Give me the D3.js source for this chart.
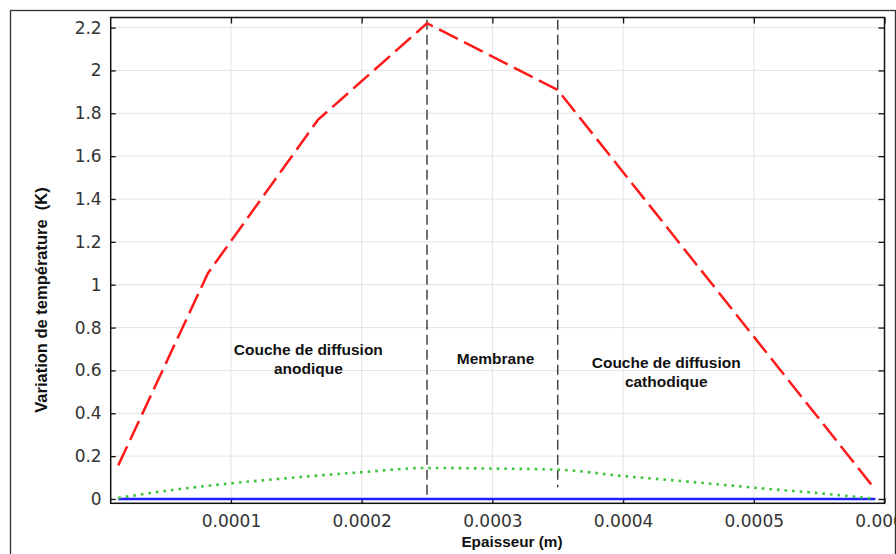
<!DOCTYPE html>
<html>
<head>
<meta charset="utf-8">
<script src="https://cdn.jsdelivr.net/npm/d3@7"></script>
<style>
  html, body { margin: 0; padding: 0; background: #fff; overflow: hidden; }
  svg { display: block; }
</style>
</head>
<body>
<div id="chart"></div>
<script>
// ---------- data ----------
const xTicks = [0.0001, 0.0002, 0.0003, 0.0004, 0.0005, 0.0006];
const xTickLabels = ["0.0001", "0.0002", "0.0003", "0.0004", "0.0005", "0.0006"];
const yTicks = [0, 0.2, 0.4, 0.6, 0.8, 1, 1.2, 1.4, 1.6, 1.8, 2, 2.2];
const yTickLabels = ["0", "0.2", "0.4", "0.6", "0.8", "1", "1.2", "1.4", "1.6", "1.8", "2", "2.2"];

const redX = [1.38e-5, 8.24e-5, 1.665e-4, 2.5e-4, 3.5e-4, 5.93e-4];
const redY = [0.157, 1.054, 1.769, 2.22, 1.909, 0.044];

const greenX = [1.38e-5, 5e-5, 1e-4, 1.5e-4, 2e-4, 2.5e-4, 3e-4, 3.5e-4, 4e-4, 4.5e-4, 5e-4, 5.5e-4, 5.93e-4];
const greenY = [0.005, 0.038, 0.073, 0.101, 0.125, 0.145, 0.142, 0.137, 0.107, 0.081, 0.053, 0.027, 0.001];

const blueX = [1.38e-5, 5.93e-4];
const blueY = [0, 0];

const sepX = [0.00025, 0.00035];
const sepTop = [2.236, 2.236];
const sepBottom = [0, 0.055];

const annotLines = [["Couche de diffusion", "anodique"], ["Membrane"], ["Couche de diffusion", "cathodique"]];
const annotX = [1.592e-4, 3.024e-4, 4.33e-4];
const annotY = [0.674, 0.629, 0.61];

const xTitle = "Epaisseur (m)";
const yTitle = "Variation de température  (K)";

// ---------- layout ----------
const W = 896, H = 554;
const L = 110.7, R = 884.5, T = 17.5, B = 503.3;

const svg = d3.select("#chart").append("svg").attr("width", W).attr("height", H);

const x = d3.scaleLinear().domain([8e-6, 0.0006]).range([L, R]);
const y = d3.scaleLinear().domain([-0.02, 2.247]).range([B, T]);

// outer border
svg.append("rect").attr("x", 10.5).attr("y", 10.5).attr("width", 885).attr("height", 600)
  .attr("fill", "none").attr("stroke", "#333").attr("stroke-width", 1.3);

// grid
const grid = svg.append("g");
grid.selectAll("line.gx").data(xTicks.slice(0, 5)).join("line")
  .attr("x1", d => x(d)).attr("x2", d => x(d)).attr("y1", T).attr("y2", B)
  .attr("stroke", "#e3e3e3").attr("stroke-width", 1);
grid.selectAll("line.gy").data(yTicks).join("line")
  .attr("x1", L).attr("x2", R).attr("y1", d => y(d)).attr("y2", d => y(d))
  .attr("stroke", "#e3e3e3").attr("stroke-width", 1);

// axes
const fmtX = (d, i) => xTickLabels[i];
const fmtY = (d, i) => yTickLabels[i];
const axB = svg.append("g").attr("transform", `translate(0,${B})`)
  .call(d3.axisBottom(x).tickValues(xTicks).tickFormat(fmtX).tickSizeInner(-5).tickSizeOuter(0).tickPadding(11.5));
const axT = svg.append("g").attr("transform", `translate(0,${T})`)
  .call(d3.axisTop(x).tickValues(xTicks).tickFormat("").tickSizeInner(-6).tickSizeOuter(0));
const axL = svg.append("g").attr("transform", `translate(${L},0)`)
  .call(d3.axisLeft(y).tickValues(yTicks).tickFormat(fmtY).tickSizeInner(-5).tickSizeOuter(0).tickPadding(9));
const axR = svg.append("g").attr("transform", `translate(${R},0)`)
  .call(d3.axisRight(y).tickValues(yTicks).tickFormat("").tickSizeInner(-6).tickSizeOuter(0));
[axB, axT, axL, axR].forEach(a => {
  a.select(".domain").remove();
  a.selectAll(".tick line").attr("stroke", "#111").attr("stroke-width", 1.3);
  a.selectAll(".tick text").attr("fill", "#333").attr("font-family", "DejaVu Sans").attr("font-size", 17);
});

// frame
svg.append("rect").attr("x", L).attr("y", T).attr("width", R - L).attr("height", B - T)
  .attr("fill", "none").attr("stroke", "#111").attr("stroke-width", 1.5);

// separators
svg.append("g").selectAll("line").data(sepX).join("line")
  .attr("x1", d => x(d)).attr("x2", d => x(d))
  .attr("y1", (d, i) => y(sepTop[i])).attr("y2", (d, i) => y(sepBottom[i]))
  .attr("stroke", "#444").attr("stroke-width", 1.5).attr("stroke-dasharray", "10,5");

// lines
const line = d3.line().x(d => x(d[0])).y(d => y(d[1]));
const zip = (a, b) => a.map((v, i) => [v, b[i]]);

svg.append("path").datum(zip(blueX, blueY)).attr("d", line)
  .attr("fill", "none").attr("stroke", "#1f1fff").attr("stroke-width", 2.5);
svg.append("path").datum(zip(greenX, greenY)).attr("d", d3.line().x(d => x(d[0])).y(d => y(d[1])).curve(d3.curveMonotoneX))
  .attr("fill", "none").attr("stroke", "#3cc43c").attr("stroke-width", 2.6).attr("stroke-dasharray", "2.6,5");
svg.append("path").datum(zip(redX, redY)).attr("d", line)
  .attr("fill", "none").attr("stroke", "#ff1a1a").attr("stroke-width", 2.5).attr("stroke-dasharray", "21,7");

// annotations
annotLines.forEach((lines, i) => {
  const t = svg.append("text").attr("x", x(annotX[i])).attr("y", y(annotY[i]))
    .attr("text-anchor", "middle").attr("font-family", "Liberation Sans, Arial, sans-serif")
    .attr("font-weight", "bold").attr("font-size", 15.5).attr("fill", "#111");
  lines.forEach((s, j) => {
    t.append("tspan").attr("x", x(annotX[i])).attr("dy", j === 0 ? 0 : 19).text(s);
  });
});

// axis titles
svg.append("text").attr("x", 512).attr("y", 546.5).attr("text-anchor", "middle")
  .attr("font-family", "Liberation Sans, Arial, sans-serif").attr("font-weight", "bold")
  .attr("font-size", 15.3).attr("fill", "#111").text(xTitle);
svg.append("text").attr("transform", "translate(47,300) rotate(-90)").attr("text-anchor", "middle")
  .attr("font-family", "Liberation Sans, Arial, sans-serif").attr("font-weight", "bold")
  .attr("font-size", 16.5).attr("fill", "#111").style("white-space", "pre").text(yTitle);
</script>
</body>
</html>
